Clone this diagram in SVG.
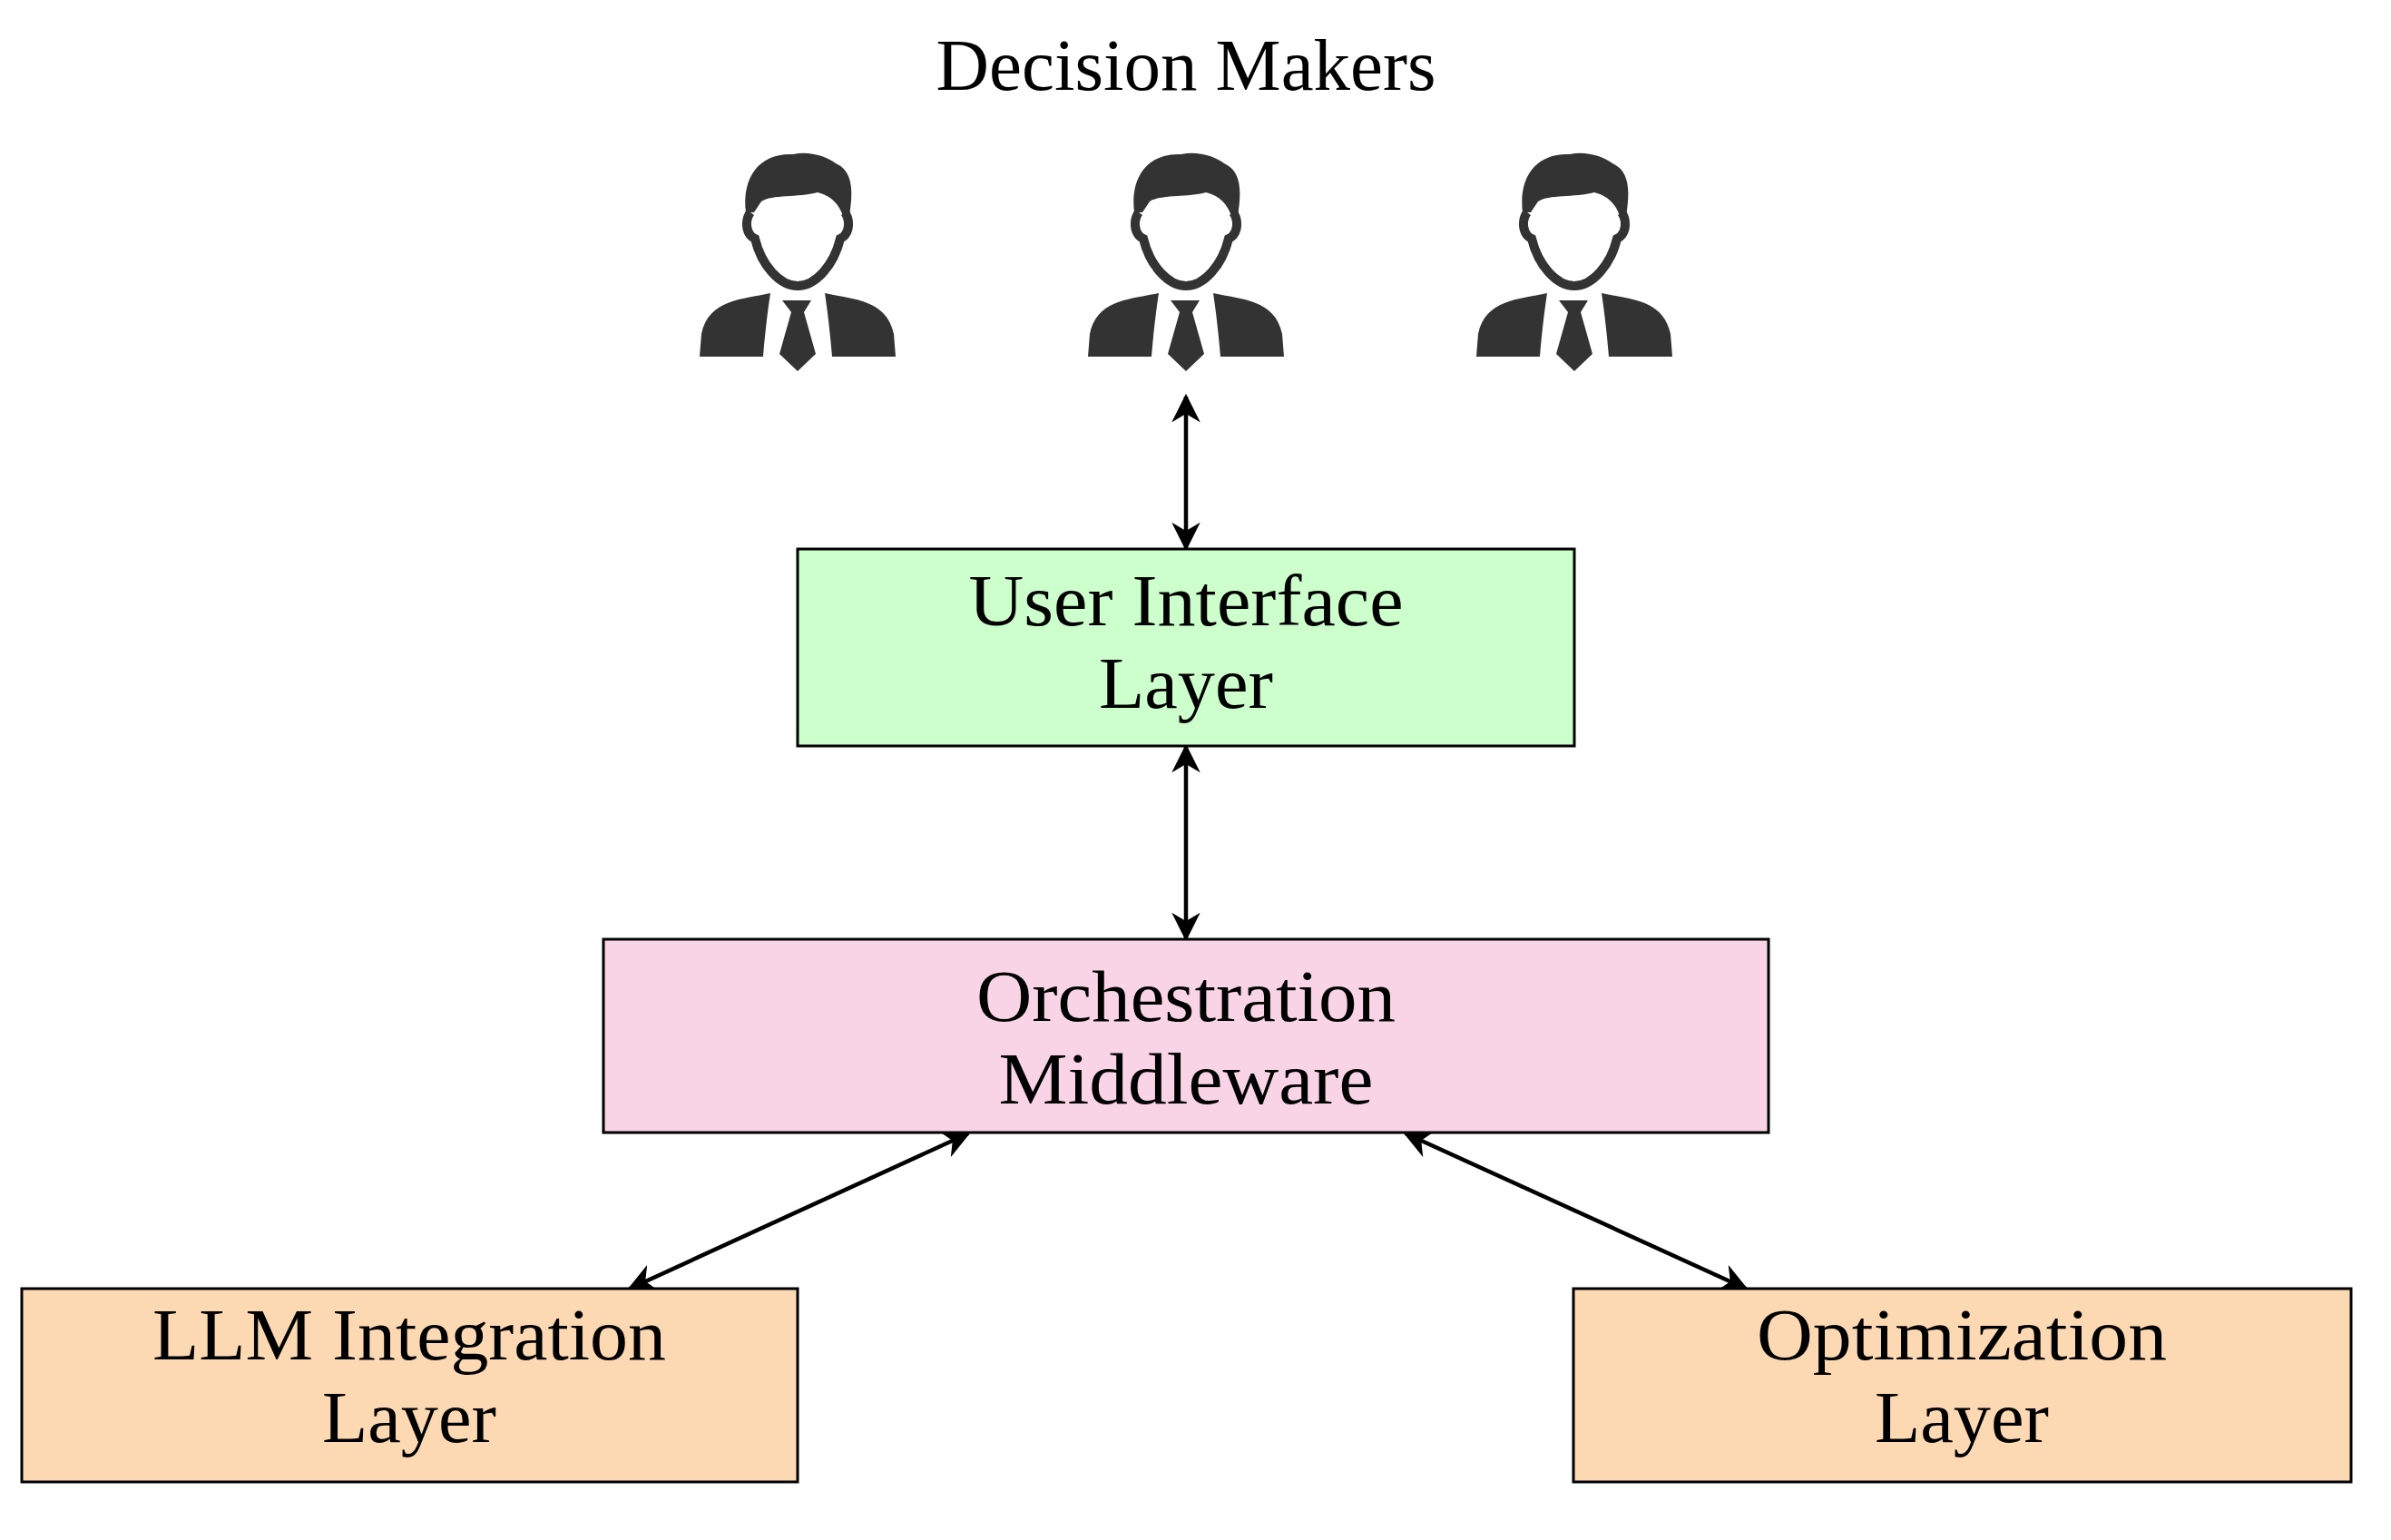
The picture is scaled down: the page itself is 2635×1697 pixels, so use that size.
<svg xmlns="http://www.w3.org/2000/svg" width="2635" height="1697" viewBox="0 0 2635 1697">
<defs>
<style>
.t{font-family:"Liberation Serif","DejaVu Serif",serif;font-size:80px;fill:#000;text-anchor:middle}
.box{stroke:#000;stroke-width:3}
.c{stroke:#000;stroke-width:4.5;fill:none;marker-start:url(#ah);marker-end:url(#ah)}
.ic{fill:#333}
</style>
<marker id="ah" viewBox="0 0 10 10" refX="9" refY="5" markerWidth="7" markerHeight="7" orient="auto-start-reverse" markerUnits="strokeWidth">
<path d="M0,0 L10,5 L0,10 L3,5 Z" fill="#000"/>
</marker>
<g id="person">
<path class="ic" d="M-57,66 C-62,25 -40,0 -5,2 C12,-2 32,4 42,12 C60,20 62,40 57,70 L50,70 C46,58 38,48 22,44 C0,50 -28,46 -40,54 L-48,66 Z"/>
<path d="M-52,66 C-58,74 -58,90 -47,95 C-40,124 -20,147 0,147 C20,147 40,124 47,95 C58,90 58,74 52,66" fill="none" stroke="#333" stroke-width="10"/>
<path class="ic" d="M-30,155 C-62,162 -98,162 -106,200 L-108,225 L-38,225 C-36,200 -33,175 -30,155 Z"/>
<path class="ic" d="M30,155 C62,162 98,162 106,200 L108,225 L38,225 C36,200 33,175 30,155 Z"/>
<path class="ic" d="M-17,163 L15,163 L7,176 L20,222 L0,241 L-20,222 L-7,176 Z"/>
</g>
</defs>
<rect width="2635" height="1697" fill="#fff"/>
<g id="decision-makers">
<text class="t" x="1307" y="99" font-size="74" textLength="551" lengthAdjust="spacingAndGlyphs">Decision Makers</text>
<use href="#person" x="879" y="168"/>
<use href="#person" x="1307" y="168"/>
<use href="#person" x="1735" y="168"/>
</g>
<g id="connectors">
<line class="c" x1="1307" y1="437" x2="1307" y2="604"/>
<line class="c" x1="1307" y1="823" x2="1307" y2="1034"/>
<line class="c" x1="1067" y1="1249" x2="694" y2="1420"/>
<line class="c" x1="1549" y1="1249" x2="1924" y2="1420"/>
</g>
<g id="ui">
<rect class="box" x="879" y="605" width="856" height="217" fill="#ccffcc"/>
<text class="t" x="1307" y="689" textLength="479" lengthAdjust="spacingAndGlyphs">User Interface</text>
<text class="t" x="1307" y="780" textLength="192" lengthAdjust="spacingAndGlyphs">Layer</text>
</g>
<g id="orch">
<rect class="box" x="665" y="1035" width="1284" height="213" fill="#f9d4e6"/>
<text class="t" x="1307" y="1125" textLength="462" lengthAdjust="spacingAndGlyphs">Orchestration</text>
<text class="t" x="1307" y="1216" textLength="413" lengthAdjust="spacingAndGlyphs">Middleware</text>
</g>
<g id="llm">
<rect class="box" x="24" y="1420" width="855" height="213" fill="#fdd9b3"/>
<text class="t" x="451" y="1498" textLength="566" lengthAdjust="spacingAndGlyphs">LLM Integration</text>
<text class="t" x="451" y="1589" textLength="192" lengthAdjust="spacingAndGlyphs">Layer</text>
</g>
<g id="opt">
<rect class="box" x="1734" y="1420" width="857" height="213" fill="#fdd9b3"/>
<text class="t" x="2162" y="1498" textLength="452" lengthAdjust="spacingAndGlyphs">Optimization</text>
<text class="t" x="2162" y="1589" textLength="192" lengthAdjust="spacingAndGlyphs">Layer</text>
</g>
</svg>
